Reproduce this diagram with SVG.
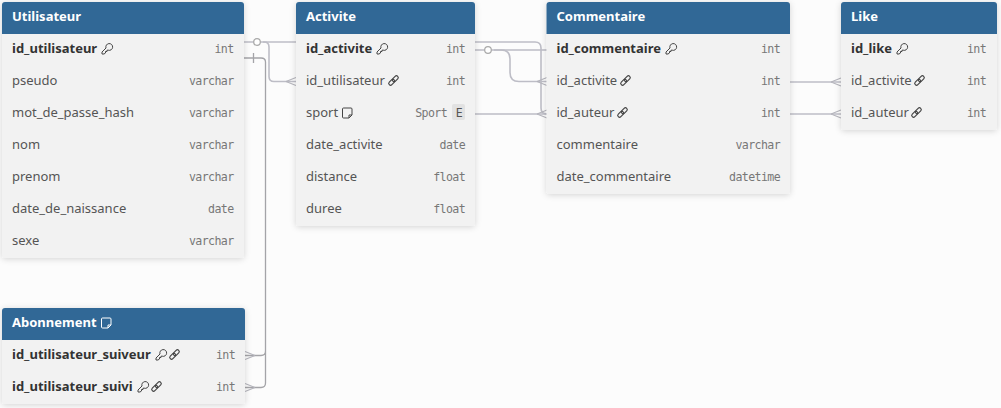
<svg xmlns="http://www.w3.org/2000/svg" width="1001" height="408" viewBox="0 0 1001 408">
<style>
text{font-family:"Noto Sans","Open Sans",sans-serif;font-size:13px;fill:#555}
.h{font-weight:700;fill:#fff;font-size:13px}
.b{font-weight:700;fill:#333}
.t{font-family:"DejaVu Sans Mono","Liberation Mono",monospace;font-size:11.6px;letter-spacing:-.62px;fill:#777;text-anchor:end}
.body{fill:#f2f2f2}
.head{fill:#316896}
.c{fill:none;stroke:#bdbdc6;stroke-width:1.6}
.c2{fill:none;stroke:#a4a4a8;stroke-width:1.3}
.ft{fill:none;stroke:#b4b4bc;stroke-width:1.1}
.ic{fill:none;stroke:#444;stroke-width:1}
.icw{fill:none;stroke:#fff;stroke-width:1}
</style>
<defs>
<filter id="s" x="-10%" y="-10%" width="120%" height="120%"><feDropShadow dx="0" dy="1" stdDeviation="3" flood-color="#000" flood-opacity=".16"/></filter>
<symbol id="key" viewBox="0 0 12 12" overflow="visible"><path d="M1 11L1 9L5 5A3.4 3.4 0 1 1 7.2 7.2L6 7.2L6 8.500L4.500 8.500L4.500 10L3 11Z"/></symbol>
<symbol id="lnk" viewBox="0 0 12 12" overflow="visible"><g transform="rotate(-45 6 6)" stroke-width="1.25"><rect x="-0.5" y="4" width="7.500" height="4" rx="2"/><rect x="5" y="4" width="7.500" height="4" rx="2"/></g></symbol>
<symbol id="note" viewBox="0 0 12 12" overflow="visible"><path d="M2.500 1H10A1 1 0 0 1 11 2V8L8 11H2.500A1 1 0 0 1 1.500 10V2A1 1 0 0 1 2.500 1ZM11 8H8V11"/></symbol>
</defs>
<rect width="1001" height="408" fill="#fcfcfc"/>
<g id="connectors">
<path class="c" d="M244 42H535Q541 42 541 48V108Q541 114 547 114"/>
<path class="c" d="M263 42H264Q269 42 269 47V76.500Q269 81.500 274 81.500H296"/>
<circle cx="257" cy="42" r="3.3" fill="#fff" stroke="#a9a9a9" stroke-width="1.2"/>
<path class="ft" d="M286 81.500L296 77.500M286 81.500L296 85.500"/>
<path class="c2" d="M244 58H261Q265.500 58 265.500 62V351Q265.500 355.500 261 355.500H245M265.500 351V383Q265.500 387.500 261 387.500H245M253.500 53V63"/>
<path class="ft" d="M255 355.500L245 351.500M255 355.500L245 359.500M255 387.500L245 383.500M255 387.500L245 391.500"/>
<path class="c" d="M475 50H547"/>
<path class="c" d="M494 50H501Q510 50 510 59V72.500Q510 81.500 519 81.500H547"/>
<circle cx="488" cy="50" r="3.3" fill="#fff" stroke="#a9a9a9" stroke-width="1.2"/>
<path class="ft" d="M537 81.500L547 77.500M537 81.500L547 85.500"/>
<path class="c" d="M475 114H547"/>
<path class="ft" d="M537 114L547 110M537 114L547 118"/>
<path class="c" d="M790 82H841M790 114H841"/>
<path class="ft" d="M831 82L841 78M831 82L841 86M831 114L841 110M831 114L841 118"/>
</g>
<g id="Utilisateur">
<rect class="body" x="2" y="2" width="242" height="256" rx="3" filter="url(#s)"/>
<path class="head" d="M2 34V5A3 3 0 0 1 5 2H241A3 3 0 0 1 244 5V34Z"/>
<text class="h" x="12" y="21">Utilisateur</text>
<text class="b" x="12" y="53">id_utilisateur</text><use href="#key" x="101" y="43" width="12" height="12" class="ic"/><text class="t" x="233.500" y="52.500">int</text>
<text x="12" y="85">pseudo</text><text class="t" x="233.500" y="84.500">varchar</text>
<text x="12" y="117">mot_de_passe_hash</text><text class="t" x="233.500" y="116.500">varchar</text>
<text x="12" y="149">nom</text><text class="t" x="233.500" y="148.500">varchar</text>
<text x="12" y="181">prenom</text><text class="t" x="233.500" y="180.500">varchar</text>
<text x="12" y="213">date_de_naissance</text><text class="t" x="233.500" y="212.500">date</text>
<text x="12" y="245">sexe</text><text class="t" x="233.500" y="244.500">varchar</text>
</g>
<g id="Activite">
<rect class="body" x="296" y="2" width="179" height="224" rx="3" filter="url(#s)"/>
<path class="head" d="M296 34V5A3 3 0 0 1 299 2H472A3 3 0 0 1 475 5V34Z"/>
<text class="h" x="306" y="21">Activite</text>
<text class="b" x="306" y="53">id_activite</text><use href="#key" x="376" y="43" width="12" height="12" class="ic"/><text class="t" x="465" y="52.500">int</text>
<text x="306" y="85">id_utilisateur</text><use href="#lnk" x="388" y="75" width="11" height="11" class="ic"/><text class="t" x="465" y="84.500">int</text>
<text x="306" y="117">sport</text><use href="#note" x="341" y="107" width="12" height="12" class="ic"/><text class="t" x="447" y="116.500">Sport</text>
<rect x="452" y="104" width="13" height="16" rx="2" fill="#e2e2e2"/><text class="t" x="462" y="116.500" style="fill:#555">E</text>
<text x="306" y="149">date_activite</text><text class="t" x="465" y="148.500">date</text>
<text x="306" y="181">distance</text><text class="t" x="465" y="180.500">float</text>
<text x="306" y="213">duree</text><text class="t" x="465" y="212.500">float</text>
</g>
<g id="Commentaire">
<rect class="body" x="546.500" y="2" width="243.500" height="192" rx="3" filter="url(#s)"/>
<path class="head" d="M546.500 34V5A3 3 0 0 1 549.500 2H787A3 3 0 0 1 790 5V34Z"/>
<text class="h" x="556.500" y="21">Commentaire</text>
<text class="b" x="556.500" y="53">id_commentaire</text><use href="#key" x="665" y="43" width="12" height="12" class="ic"/><text class="t" x="780" y="52.500">int</text>
<text x="556.500" y="85">id_activite</text><use href="#lnk" x="620" y="75" width="11" height="11" class="ic"/><text class="t" x="780" y="84.500">int</text>
<text x="556.500" y="117">id_auteur</text><use href="#lnk" x="617" y="107" width="11" height="11" class="ic"/><text class="t" x="780" y="116.500">int</text>
<text x="556.500" y="149">commentaire</text><text class="t" x="780" y="148.500">varchar</text>
<text x="556.500" y="181">date_commentaire</text><text class="t" x="780" y="180.500">datetime</text>
</g>
<g id="Like">
<rect class="body" x="841" y="2" width="156" height="128" rx="3" filter="url(#s)"/>
<path class="head" d="M841 34V5A3 3 0 0 1 844 2H994A3 3 0 0 1 997 5V34Z"/>
<text class="h" x="851" y="21">Like</text>
<text class="b" x="851" y="53">id_like</text><use href="#key" x="896" y="43" width="12" height="12" class="ic"/><text class="t" x="986" y="52.500">int</text>
<text x="851" y="85">id_activite</text><use href="#lnk" x="914" y="75" width="11" height="11" class="ic"/><text class="t" x="986" y="84.500">int</text>
<text x="851" y="117">id_auteur</text><use href="#lnk" x="911" y="107" width="11" height="11" class="ic"/><text class="t" x="986" y="116.500">int</text>
</g>
<g id="Abonnement">
<rect class="body" x="2" y="308" width="243" height="96" rx="3" filter="url(#s)"/>
<path class="head" d="M2 340V311A3 3 0 0 1 5 308H242A3 3 0 0 1 245 311V340Z"/>
<text class="h" x="12" y="327">Abonnement</text><use href="#note" x="100" y="317" width="12" height="12" class="icw"/>
<text class="b" x="12" y="359">id_utilisateur_suiveur</text><use href="#key" x="155" y="349" width="12" height="12" class="ic"/><use href="#lnk" x="169" y="349" width="11" height="11" class="ic"/><text class="t" x="235" y="358.500">int</text>
<text class="b" x="12" y="391">id_utilisateur_suivi</text><use href="#key" x="137" y="381" width="12" height="12" class="ic"/><use href="#lnk" x="151" y="381" width="11" height="11" class="ic"/><text class="t" x="235" y="390.500">int</text>
</g>
</svg>
